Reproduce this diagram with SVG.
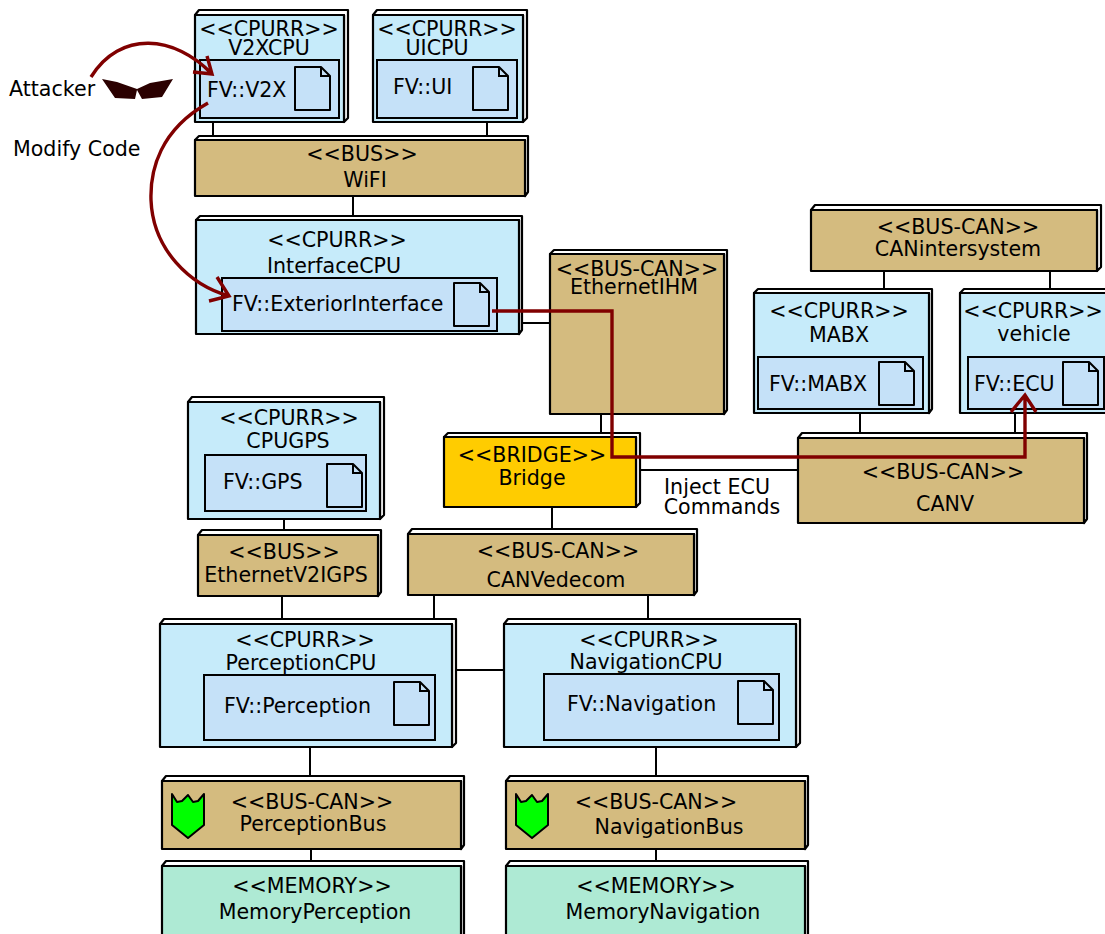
<svg xmlns="http://www.w3.org/2000/svg" width="1105" height="934" viewBox="0 0 1105 934">
<style>
text{font-family:"DejaVu Sans",sans-serif;font-size:20.6px;fill:#000;text-anchor:middle;transform:translateY(.7px)}
.s{text-anchor:start}
.b{stroke:#000;stroke-width:2.2;stroke-linejoin:round}
.w{fill:#fff}
.cpu{fill:#c6ebfa}
.bus{fill:#d4bb7f}
.inner{fill:#c5e1f8;stroke:#000;stroke-width:2}
.mem{fill:#aeead4}
.br{fill:#ffcc00}
.c line{stroke:#000;stroke-width:2}
.r{fill:none;stroke:#800000;stroke-width:3.4}
</style>
<defs>
<g id="doc"><path d="M0 0H26L35 9V43H0Z" fill="#c5e1f8" stroke="#000" stroke-width="2" stroke-linejoin="round"/><path d="M26 0V9H35" fill="none" stroke="#000" stroke-width="2"/></g>
<path id="shield" d="M172 794L177 802L182 801L188 795L193 802L198 801L204 794V825L188 838L172 825Z" fill="#00ff00" stroke="#000" stroke-width="2" stroke-linejoin="round"/>
</defs>
<g id="connectors" class="c">
<line x1="213" y1="122" x2="213" y2="140"/><line x1="487" y1="122" x2="487" y2="140"/>
<line x1="353" y1="196" x2="353" y2="220"/><line x1="519" y1="323" x2="550" y2="323"/>
<line x1="601" y1="414" x2="601" y2="437"/><line x1="884" y1="271" x2="884" y2="293"/>
<line x1="1050" y1="271" x2="1050" y2="293"/><line x1="860" y1="413" x2="860" y2="438"/>
<line x1="1015" y1="413" x2="1015" y2="438"/><line x1="636" y1="470" x2="798" y2="470"/>
<line x1="552" y1="507" x2="552" y2="534"/><line x1="284" y1="519" x2="284" y2="535"/>
<line x1="282" y1="596" x2="282" y2="624"/><line x1="434" y1="595" x2="434" y2="624"/>
<line x1="648" y1="595" x2="648" y2="624"/><line x1="452" y1="670" x2="504" y2="670"/>
<line x1="310" y1="747" x2="310" y2="781"/><line x1="656" y1="747" x2="656" y2="781"/>
<line x1="311" y1="849" x2="311" y2="866"/><line x1="656" y1="849" x2="656" y2="866"/>
</g>
<g id="V2XCPU"><path class="b w" d="M195 15L199 10H348V118L344 122V15Z"/><rect class="b cpu" x="195" y="15" width="149" height="107"/><text x="269" y="35">&lt;&lt;CPURR&gt;&gt;</text><text x="269" y="54">V2XCPU</text><rect class="inner" x="200" y="60" width="139" height="58"/><text class="s" x="207" y="96">FV::V2X</text><use href="#doc" x="295" y="67"/></g>
<g id="UICPU"><path class="b w" d="M373 15L377 10H527V118L523 122V15Z"/><rect class="b cpu" x="373" y="15" width="150" height="107"/><text x="447" y="35">&lt;&lt;CPURR&gt;&gt;</text><text x="437" y="54">UICPU</text><rect class="inner" x="377" y="60" width="140" height="58"/><text class="s" x="393" y="93">FV::UI</text><use href="#doc" x="473" y="67"/></g>
<g id="WiFI"><path class="b w" d="M195 140L199 136H528V192L525 196V140Z"/><rect class="b bus" x="195" y="140" width="330" height="56"/><text x="362" y="160">&lt;&lt;BUS&gt;&gt;</text><text x="365" y="186">WiFI</text></g>
<g id="InterfaceCPU"><path class="b w" d="M196 220L200 216H522V330L519 334V220Z"/><rect class="b cpu" x="196" y="220" width="323" height="114"/><text x="337" y="246">&lt;&lt;CPURR&gt;&gt;</text><text x="334" y="272">InterfaceCPU</text><rect class="inner" x="222" y="278" width="275" height="53"/><text class="s" x="232" y="310">FV::ExteriorInterface</text><use href="#doc" x="454" y="283"/></g>
<g id="EthernetIHM"><path class="b w" d="M550 254L554 250H727V410L724 414V254Z"/><rect class="b bus" x="550" y="254" width="174" height="160"/><text x="637" y="275">&lt;&lt;BUS-CAN&gt;&gt;</text><text x="634" y="293">EthernetIHM</text></g>
<g id="CANintersystem"><path class="b w" d="M811 210L815 205H1101V267L1097 271V210Z"/><rect class="b bus" x="811" y="210" width="286" height="61"/><text x="958" y="233">&lt;&lt;BUS-CAN&gt;&gt;</text><text x="958" y="255">CANintersystem</text></g>
<g id="MABX"><path class="b w" d="M754 293L758 289H932V409L929 413V293Z"/><rect class="b cpu" x="754" y="293" width="175" height="120"/><text x="839" y="317">&lt;&lt;CPURR&gt;&gt;</text><text x="839" y="341">MABX</text><rect class="inner" x="758" y="357" width="165" height="52"/><text class="s" x="769" y="390">FV::MABX</text><use href="#doc" x="879" y="362"/></g>
<g id="vehicle"><path class="b w" d="M960 293L964 289H1110V293Z"/><rect class="b cpu" x="960" y="293" width="150" height="120"/><text x="1033" y="317">&lt;&lt;CPURR&gt;&gt;</text><text x="1034" y="340">vehicle</text><rect class="inner" x="968" y="357" width="136" height="52"/><text class="s" x="974" y="390">FV::ECU</text><use href="#doc" x="1063" y="362"/></g>
<g id="Bridge"><path class="b w" d="M444 437L448 433H640V503L636 507V437Z"/><rect class="b br" x="444" y="437" width="192" height="70"/><text x="532" y="461">&lt;&lt;BRIDGE&gt;&gt;</text><text x="532" y="484">Bridge</text></g>
<g id="CANV"><path class="b w" d="M798 438L802 433H1087V519L1084 523V438Z"/><rect class="b bus" x="798" y="438" width="286" height="85"/><text x="943" y="478">&lt;&lt;BUS-CAN&gt;&gt;</text><text x="945" y="510">CANV</text></g>
<g id="CPUGPS"><path class="b w" d="M188 402L192 397H384V515L380 519V402Z"/><rect class="b cpu" x="188" y="402" width="192" height="117"/><text x="289" y="424">&lt;&lt;CPURR&gt;&gt;</text><text x="288" y="447">CPUGPS</text><rect class="inner" x="205" y="455" width="161" height="56"/><text class="s" x="223" y="488">FV::GPS</text><use href="#doc" x="327" y="464"/></g>
<g id="EthernetV2IGPS"><path class="b w" d="M198 535L202 530H381V592L378 596V535Z"/><rect class="b bus" x="198" y="535" width="180" height="61"/><text x="284" y="558">&lt;&lt;BUS&gt;&gt;</text><text x="286" y="581">EthernetV2IGPS</text></g>
<g id="CANVedecom"><path class="b w" d="M408 534L412 529H697V591L694 595V534Z"/><rect class="b bus" x="408" y="534" width="286" height="61"/><text x="558" y="557">&lt;&lt;BUS-CAN&gt;&gt;</text><text x="556" y="586">CANVedecom</text></g>
<g id="PerceptionCPU"><path class="b w" d="M160 624L164 619H456V743L452 747V624Z"/><rect class="b cpu" x="160" y="624" width="292" height="123"/><text x="305" y="646">&lt;&lt;CPURR&gt;&gt;</text><text x="301" y="669">PerceptionCPU</text><rect class="inner" x="204" y="675" width="231" height="65"/><text class="s" x="224" y="712">FV::Perception</text><use href="#doc" x="394" y="682"/></g>
<g id="NavigationCPU"><path class="b w" d="M504 624L508 619H800V743L796 747V624Z"/><rect class="b cpu" x="504" y="624" width="292" height="123"/><text x="649" y="646">&lt;&lt;CPURR&gt;&gt;</text><text x="646" y="668">NavigationCPU</text><rect class="inner" x="544" y="674" width="235" height="66"/><text class="s" x="567" y="710">FV::Navigation</text><use href="#doc" x="738" y="681"/></g>
<g id="PerceptionBus"><path class="b w" d="M162 781L166 776H464V845L461 849V781Z"/><rect class="b bus" x="162" y="781" width="299" height="68"/><use href="#shield"/><text x="312" y="808">&lt;&lt;BUS-CAN&gt;&gt;</text><text x="313" y="830">PerceptionBus</text></g>
<g id="NavigationBus"><path class="b w" d="M506 781L510 776H808V845L805 849V781Z"/><rect class="b bus" x="506" y="781" width="299" height="68"/><use href="#shield" x="344"/><text x="656" y="808">&lt;&lt;BUS-CAN&gt;&gt;</text><text x="669" y="833">NavigationBus</text></g>
<g id="MemoryPerception"><path class="b w" d="M162 866L166 861H464V940H461V866Z"/><rect class="b mem" x="162" y="866" width="299" height="80"/><text x="312" y="892">&lt;&lt;MEMORY&gt;&gt;</text><text x="315" y="918">MemoryPerception</text></g>
<g id="MemoryNavigation"><path class="b w" d="M506 866L510 861H808V940H805V866Z"/><rect class="b mem" x="506" y="866" width="299" height="80"/><text x="656" y="892">&lt;&lt;MEMORY&gt;&gt;</text><text x="663" y="918">MemoryNavigation</text></g>
<g id="Attacker"><text class="s" x="9" y="95">Attacker</text><path d="M102 79L117 82L137 89L150 83L173 79L162 97L142 99L137 90L135 99L115 98Z" fill="#2b0000"/></g>
<g id="labels"><text class="s" x="13" y="155">Modify Code</text><text x="717" y="493">Inject ECU</text><text x="722" y="513">Commands</text></g>
<g id="attack-paths">
<path class="r" d="M91 77C120 30 175 35 212 74M207 56L212 74L193 72"/>
<path class="r" d="M208 103C160 130 150 170 151 200C153 250 190 285 229 296M217 277L229 296L209 301"/>
<path class="r" d="M492 311H612V457H1025V396M1011 412L1025 395L1036 412"/>
</g>
</svg>
